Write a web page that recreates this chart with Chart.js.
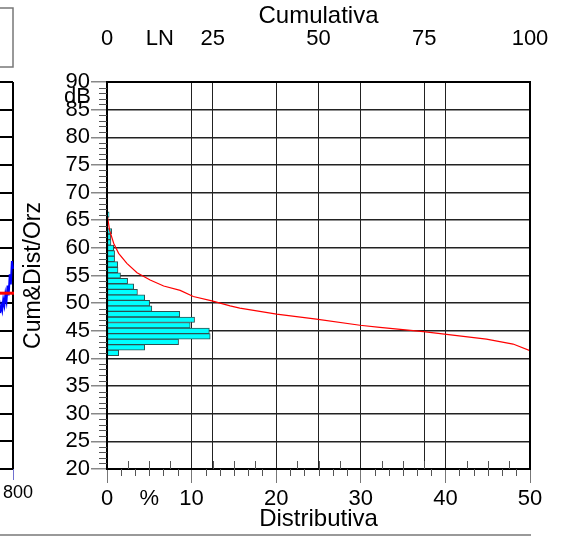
<!DOCTYPE html>
<html>
<head>
<meta charset="utf-8">
<script src="https://cdn.jsdelivr.net/npm/chart.js@4/dist/chart.umd.min.js"></script>
<style>
  html, body { margin: 0; padding: 0; background: #fff; }
</style>
</head>
<body>
<canvas id="levelChart" width="567" height="537"></canvas>
<script>
// Histogram: level class (dB) and distribution (%)
const levels = [41, 42, 43, 44, 45, 46, 47, 48, 49, 50, 51, 52, 53, 54, 55, 56, 57, 58, 59, 60, 61, 62, 63, 64, 65, 66];
const distribution = [1.38, 4.45, 8.46, 12.2, 12.1, 9.84, 10.35, 8.6, 5.3, 5.04, 4.45, 3.6, 3.15, 2.44, 1.6, 1.3, 1.26, 0.9, 0.9, 0.79, 0.47, 0.43, 0.55, 0, 0, 0.25];

// Cumulative curve: percent exceeded vs level
const cumPercent = [0, 0.6, 1.6, 2.75, 4.7, 7.1, 10.2, 13.4, 17.3, 20.4, 24.8, 29.1, 31.4, 40.1, 49.5, 59.8, 64.5, 74.8, 89.7, 96, 100];
const cumLevels = [66.3, 63.2, 60.8, 59.0, 57.2, 55.5, 54.2, 53.1, 52.3, 51.2, 50.4, 49.5, 49.1, 48.0, 47.1, 46.0, 45.6, 44.85, 43.5, 42.6, 41.4];

// Tick labels
const distTickValues = [0, 5, 10, 20, 30, 40, 50];
const distTickLabels = ['0', '%', '10', '20', '30', '40', '50'];
const cumTickValues = [0, 12.5, 25, 50, 75, 100];
const cumTickLabels = ['0', 'LN', '25', '50', '75', '100'];

// Fragment of the neighbouring time chart (cut off at the left edge)
const sideTrace = [48.2, 49.6, 48.7, 50.6, 49.6, 51.6, 50.4, 53.2, 51.4, 55.2, 53.4, 57.6, 56.2];
const sideLeq = 51.8;

const FONT = "'Liberation Sans', Arial, sans-serif";
const GRID = '#222';

// keep label overhang from shrinking the plot area
function fixHorizontal(height) {
    return s => {
        s.height = height;
        s.paddingLeft = 0;
        s.paddingRight = 0;
    };
}

const decorations = {
    id: 'decorations',
    afterDraw(chart) {
        const { ctx, chartArea: area, scales } = chart;
        const y = scales.y, x = scales.x;
        ctx.save();

        // plot frame
        ctx.strokeStyle = '#000';
        ctx.lineWidth = 2;
        ctx.strokeRect(area.left, area.top, area.right - area.left, area.bottom - area.top);

        // minor ticks on the level axis
        ctx.strokeStyle = '#555';
        ctx.lineWidth = 1;
        for (let v = 20; v <= 90; v++) {
            if (v % 5 === 0) continue;
            const py = Math.round(y.getPixelForValue(v)) + 0.5;
            ctx.beginPath();
            ctx.moveTo(area.left - 8, py);
            ctx.lineTo(area.left, py);
            ctx.stroke();
        }
        // minor ticks on the bottom axis: inside every 2.5 %, outside every 1/6 of 10 %
        for (let v = 2.5; v < 50; v += 2.5) {
            if (v % 10 === 0) continue;
            const px = Math.round(x.getPixelForValue(v)) + 0.5;
            ctx.beginPath();
            ctx.moveTo(px, area.bottom - 8);
            ctx.lineTo(px, area.bottom);
            ctx.stroke();
        }
        for (let i = 1; i < 30; i++) {
            if (i % 6 === 0) continue;
            const px = Math.round(x.getPixelForValue(i * 10 / 6)) + 0.5;
            ctx.beginPath();
            ctx.moveTo(px, area.bottom);
            ctx.lineTo(px, area.bottom + 7);
            ctx.stroke();
        }

        // unit label near the top of the level axis
        ctx.fillStyle = '#000';
        ctx.font = '22px ' + FONT;
        ctx.textAlign = 'right';
        ctx.textBaseline = 'middle';
        ctx.fillText('dB', area.left - 16, y.getPixelForValue(87.3));

        // left neighbour chart fragment
        const edge = 13;
        ctx.strokeStyle = '#000';
        ctx.lineWidth = 2;
        for (let v = 20; v <= 90; v += 5) {
            const py = Math.round(y.getPixelForValue(v));
            ctx.beginPath();
            ctx.moveTo(0, py);
            ctx.lineTo(edge, py);
            ctx.stroke();
        }
        ctx.beginPath();
        ctx.moveTo(edge, y.getPixelForValue(90));
        ctx.lineTo(edge, y.getPixelForValue(20));
        ctx.stroke();

        ctx.strokeStyle = '#0000ff';
        ctx.lineWidth = 2;
        ctx.beginPath();
        sideTrace.forEach((v, i) => {
            const px = i * edge / (sideTrace.length - 1);
            const py = y.getPixelForValue(v);
            if (i === 0) ctx.moveTo(px, py); else ctx.lineTo(px, py);
        });
        ctx.stroke();
        ctx.lineWidth = 1;
        ctx.strokeStyle = '#7070d0';
        ctx.beginPath();
        ctx.moveTo(edge + 0.5, area.bottom);
        ctx.lineTo(edge + 0.5, area.bottom + 11);
        ctx.stroke();

        ctx.strokeStyle = '#ff0000';
        ctx.lineWidth = 3;
        ctx.beginPath();
        ctx.moveTo(0, y.getPixelForValue(sideLeq));
        ctx.lineTo(edge + 1, y.getPixelForValue(sideLeq));
        ctx.stroke();

        ctx.font = '18px ' + FONT;
        ctx.textAlign = 'center';
        ctx.fillStyle = '#000';
        ctx.fillText('800', 18, 493);

        // frame pieces of the surrounding report
        ctx.strokeStyle = '#777';
        ctx.lineWidth = 1.5;
        ctx.strokeRect(-1, 8, edge + 1, 59);
        ctx.beginPath();
        ctx.moveTo(0, 535);
        ctx.lineTo(area.right + 1, 535);
        ctx.stroke();

        ctx.restore();
    }
};

new Chart(document.getElementById('levelChart'), {
    type: 'bar',
    data: {
        datasets: [
            {
                type: 'line',
                data: cumPercent.map((c, i) => ({ x: c, y: cumLevels[i] })),
                borderColor: '#ff0000',
                borderWidth: 1.2,
                pointRadius: 0,
                xAxisID: 'xc',
                yAxisID: 'y',
                order: 0
            },
            {
                type: 'bar',
                data: levels.map((l, i) => ({ x: distribution[i], y: l })),
                backgroundColor: '#00ffff',
                borderColor: '#2f5050',
                borderWidth: 1,
                borderSkipped: false,
                categoryPercentage: 1,
                barPercentage: 1,
                xAxisID: 'x',
                yAxisID: 'y',
                order: 1
            }
        ]
    },
    options: {
        responsive: false,
        animation: false,
        indexAxis: 'y',
        layout: { padding: { left: 0, right: 37, top: 0, bottom: 0 } },
        plugins: {
            legend: { display: false },
            tooltip: { enabled: false }
        },
        scales: {
            x: {
                type: 'linear',
                position: 'bottom',
                min: 0,
                max: 50,
                afterFit: fixHorizontal(68),
                afterBuildTicks: s => { s.ticks = distTickValues.map(v => ({ value: v })); },
                ticks: {
                    autoSkip: false,
                    maxRotation: 0,
                    padding: 3,
                    color: '#000',
                    font: { family: FONT, size: 22 },
                    callback: v => distTickLabels[distTickValues.indexOf(v)]
                },
                grid: {
                    color: c => (c.tick && c.tick.value % 10 === 0) ? GRID : 'rgba(0,0,0,0)',
                    tickColor: c => (c.tick && c.tick.value % 10 === 0) ? '#777' : 'rgba(0,0,0,0)',
                    tickLength: 14,
                    lineWidth: 1
                },
                border: { color: '#000', width: 2 },
                title: {
                    display: true,
                    text: 'Distributiva',
                    color: '#000',
                    font: { family: FONT, size: 24 },
                    padding: { top: 0, bottom: 3 }
                }
            },
            xc: {
                type: 'linear',
                position: 'top',
                min: 0,
                max: 100,
                afterFit: fixHorizontal(82),
                afterBuildTicks: s => { s.ticks = cumTickValues.map(v => ({ value: v })); },
                ticks: {
                    autoSkip: false,
                    maxRotation: 0,
                    padding: 30,
                    color: '#000',
                    font: { family: FONT, size: 22 },
                    callback: v => cumTickLabels[cumTickValues.indexOf(v)]
                },
                grid: {
                    drawTicks: false,
                    color: c => (c.tick && [25, 50, 75].includes(c.tick.value)) ? GRID : 'rgba(0,0,0,0)',
                    lineWidth: 1
                },
                border: { color: '#000', width: 2 },
                title: {
                    display: true,
                    text: 'Cumulativa',
                    color: '#000',
                    font: { family: FONT, size: 24 },
                    padding: { top: 2, bottom: 0 }
                }
            },
            y: {
                type: 'linear',
                position: 'left',
                min: 20,
                max: 90,
                offset: false,
                afterFit: s => { s.width = 107; s.paddingTop = 0; s.paddingBottom = 0; },
                ticks: {
                    stepSize: 5,
                    autoSkip: false,
                    padding: 1,
                    color: '#000',
                    font: { family: FONT, size: 22 }
                },
                grid: {
                    offset: false,
                    color: GRID,
                    lineWidth: 1.5,
                    tickColor: '#888',
                    tickLength: 16
                },
                border: { color: '#000', width: 2 },
                title: {
                    display: true,
                    text: 'Cum&Dist/Orz',
                    color: '#000',
                    font: { family: FONT, size: 23 },
                    padding: { top: 20, bottom: 0 }
                }
            }
        }
    },
    plugins: [decorations]
});
</script>
</body>
</html>
